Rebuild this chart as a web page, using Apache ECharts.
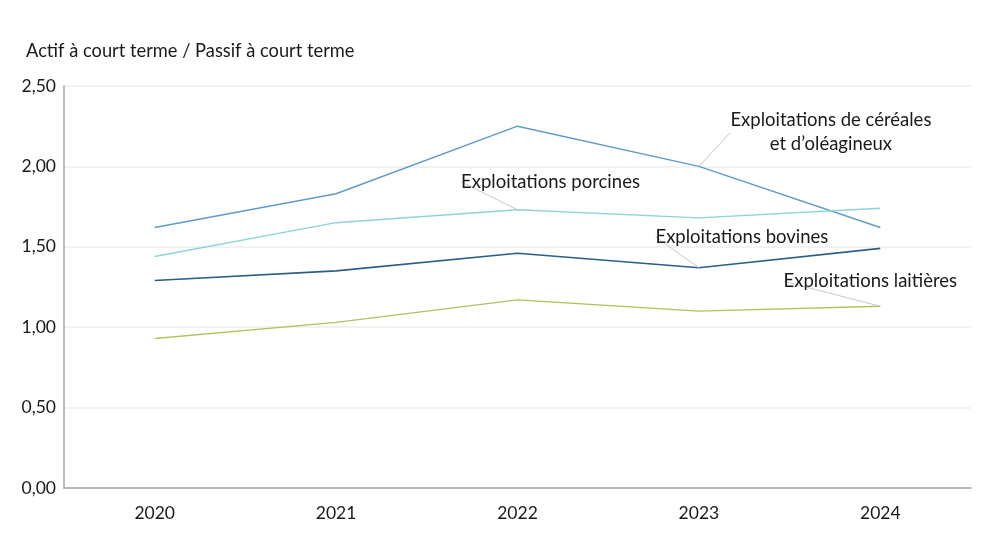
<!DOCTYPE html>
<html>
<head>
<meta charset="utf-8">
<script src="https://cdn.jsdelivr.net/npm/echarts@6/dist/echarts.min.js"></script>
<style>html,body{margin:0;padding:0;background:#fff}#c{width:992px;height:558px}</style>
</head>
<body>
<div id="c"></div>
<script>
const years = ['2020','2021','2022','2023','2024'];
const cereales = [1.62, 1.83, 2.25, 2.00, 1.62];
const porcines = [1.44, 1.65, 1.73, 1.68, 1.74];
const bovines  = [1.29, 1.35, 1.46, 1.37, 1.49];
const laitieres = [0.93, 1.03, 1.17, 1.10, 1.13];
const yTicks = [0, 0.5, 1.0, 1.5, 2.0, 2.5];

const FONT = 'Lato';
const chart = echarts.init(document.getElementById('c'), null, {renderer:'canvas'});

function mk(name, data, color, labelIdx, text, dx, dy, lw) {
  return {
    name, type:'line', data: data.map((v,i)=> i===labelIdx ? {
      value: v,
      label: {show:true, formatter:text, position:'inside', color:'#1a1a1a', fontFamily:FONT, fontSize:18.5, lineHeight:24, align:'center'},
      labelLine: {show:true, lineStyle:{color:'#c8c8c8', width:1}}
    } : v),
    color, symbol:'circle', symbolSize:0, showSymbol:true,
    lineStyle:{color, width:lw||1.4},
    labelLayout: (p)=> p.dataIndex===labelIdx ? {dx, dy} : {},
    emphasis:{disabled:true}, animation:false
  };
}

chart.setOption({
  animation:false,
  title:{text:'Actif à court terme / Passif à court terme', left:21, top:37,
    textStyle:{fontFamily:FONT, fontSize:18.3, fontWeight:'normal', color:'#1a1a1a'}},
  grid:{left:64, right:21, top:86, bottom:70, containLabel:false},
  xAxis:{type:'category', data:years, boundaryGap:true,
    axisLine:{lineStyle:{color:'#a6a6a6', width:1.5}}, axisTick:{show:false},
    axisLabel:{fontFamily:FONT, fontSize:17.5, color:'#1a1a1a', margin:16}},
  yAxis:{type:'value', min:yTicks[0], max:yTicks[yTicks.length-1], interval:0.5,
    axisLine:{show:true, lineStyle:{color:'#a6a6a6', width:1.5}}, axisTick:{show:false},
    splitLine:{lineStyle:{color:'#eeeeee', width:1.5}},
    axisLabel:{fontFamily:FONT, fontSize:17.5, color:'#1a1a1a', margin:8,
      formatter:(v)=>v.toFixed(2).replace('.',',')}},
  series:[
    mk('Exploitations de céréales et d’oléagineux', cereales, '#5d9cc9', 3, 'Exploitations de céréales\net d’oléagineux', 132, -34),
    mk('Exploitations porcines', porcines, '#8dd3da', 2, 'Exploitations porcines', 33, -28),
    mk('Exploitations bovines', bovines, '#2e5e85', 3, 'Exploitations bovines', 43, -31, 1.6),
    mk('Exploitations laitières', laitieres, '#aec45a', 4, 'Exploitations laitières', -10, -25)
  ]
});
</script>
</body>
</html>
